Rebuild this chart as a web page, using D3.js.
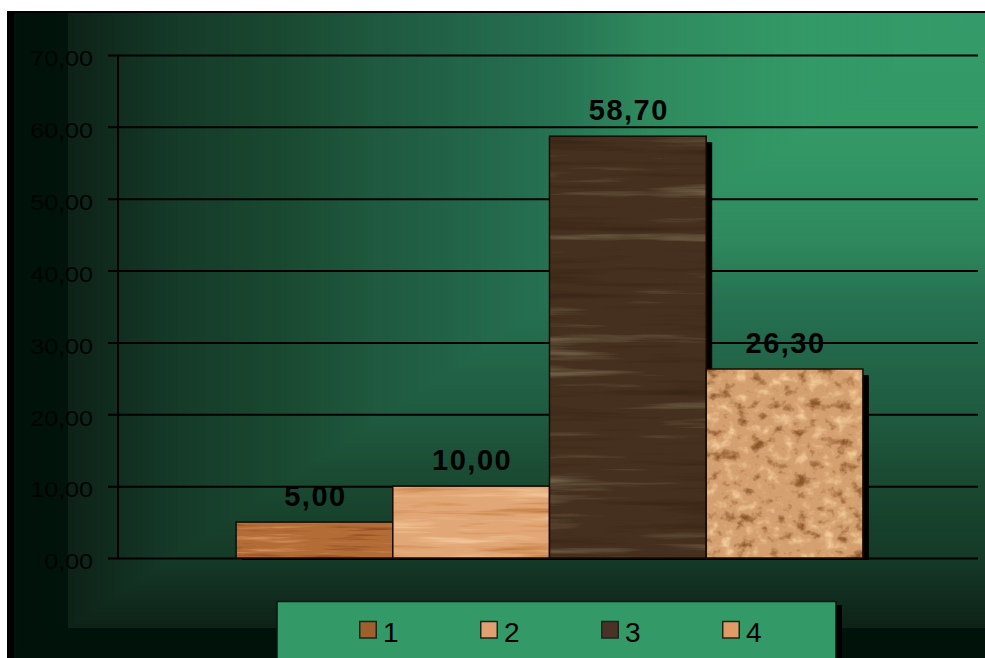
<!DOCTYPE html>
<html>
<head>
<meta charset="utf-8">
<script src="https://cdn.jsdelivr.net/npm/d3@7"></script>
<style>
  html, body { margin: 0; padding: 0; background: #ffffff; }
  svg { display: block; }
  text { font-family: "Liberation Sans", Arial, sans-serif; }
</style>
</head>
<body>
<svg id="chart" width="985" height="658"></svg>
<script>
// ---- data ----
const series = ["1", "2", "3", "4"];
const values = [5.00, 10.00, 58.70, 26.30];
const yTicks = [0, 10, 20, 30, 40, 50, 60, 70];
const yTickLabels = ["0,00", "10,00", "20,00", "30,00", "40,00", "50,00", "60,00", "70,00"];

// ---- styles ----
const woodStyles = [
  { base: "#b36c36", light: [0.86, 0.60, 0.40], dark: [0.50, 0.24, 0.12], freq: "0.012 0.22", seed: 4, la: 3, lb: -1.75, da: -3, db: 1.3, swatch: "#a0602e" },
  { base: "#e2a776", light: [0.97, 0.82, 0.64], dark: [0.74, 0.46, 0.22], freq: "0.008 0.11", seed: 7, la: 3, lb: -1.7, da: -3, db: 1.3, swatch: "#e0a070" },
  { base: "#45301f", light: [0.50, 0.44, 0.33], dark: [0.22, 0.14, 0.08], freq: "0.005 0.09", seed: 11, la: 2.6, lb: -1.55, da: -3, db: 1.35, swatch: "#4a3226" },
  { base: "#d5a070", light: [0.95, 0.80, 0.60], dark: [0.55, 0.34, 0.16], freq: "0.07 0.08", seed: 5, la: 3.5, lb: -1.95, da: -3.5, db: 1.55, swatch: "#df9c66" }
];

const svg = d3.select("#chart");
const defs = svg.append("defs");

// texture filters
woodStyles.forEach((s, i) => {
  const f = defs.append("filter").attr("id", "tex" + i)
    .attr("x", 0).attr("y", 0).attr("width", 1).attr("height", 1)
    .attr("color-interpolation-filters", "sRGB");
  f.append("feTurbulence").attr("type", "fractalNoise").attr("baseFrequency", s.freq)
    .attr("numOctaves", 4).attr("seed", s.seed).attr("result", "n");
  f.append("feColorMatrix").attr("in", "n").attr("type", "matrix")
    .attr("values", `0 0 0 0 ${s.light[0]} 0 0 0 0 ${s.light[1]} 0 0 0 0 ${s.light[2]} ${s.la} 0 0 0 ${s.lb}`)
    .attr("result", "light");
  f.append("feColorMatrix").attr("in", "n").attr("type", "matrix")
    .attr("values", `0 0 0 0 ${s.dark[0]} 0 0 0 0 ${s.dark[1]} 0 0 0 0 ${s.dark[2]} ${s.da} 0 0 0 ${s.db}`)
    .attr("result", "dark");
  const m = f.append("feMerge").attr("result", "m");
  m.append("feMergeNode").attr("in", "SourceGraphic");
  m.append("feMergeNode").attr("in", "dark");
  m.append("feMergeNode").attr("in", "light");
  f.append("feComposite").attr("in", "m").attr("in2", "SourceGraphic").attr("operator", "in");
});

// ---- corner gradient background (from top-right corner) ----
function cornerGradient(g, x0, y0, x1, y1, stops, colors, n) {
  const c = d3.scaleLinear().domain(stops).range(colors).interpolate(d3.interpolateRgb);
  const W = x1 - x0, H = y1 - y0;
  g.selectAll(null).data(d3.range(n)).enter().append("rect")
    .attr("x", i => x1 - (1 - i / n) * W)
    .attr("y", y0)
    .attr("width", i => (1 - i / n) * W)
    .attr("height", i => (1 - i / n) * H)
    .attr("fill", i => c(1 - i / n));
}

const bg = svg.append("g");
cornerGradient(bg, 7, 12, 985, 658, [0, 1], ["#0b2e1f", "#001209"], 60);
bg.append("rect").attr("x", 7).attr("y", 12).attr("width", 7).attr("height", 646).attr("fill", "#000");
cornerGradient(bg, 68, 12, 985, 628,
  [0, 0.2, 0.37, 0.47, 0.66, 0.76, 0.89, 1],
  ["#349a69", "#339966", "#2f8a5e", "#267252", "#1f5a40", "#1a4a32", "#153a28", "#0e2218"], 160);
bg.append("line").attr("x1", 7).attr("x2", 985).attr("y1", 12).attr("y2", 12)
  .attr("stroke", "#000").attr("stroke-width", 2);

// ---- scales ----
const y = d3.scaleLinear().domain([0, 70]).range([558, 55]);
const xOuter = d3.scaleBand().domain(["g"]).range([119.5, 979.5]).paddingOuter(0.186);
const xInner = d3.scaleBand().domain(series).range([0, xOuter.bandwidth()]);
const fmt = d3.formatLocale({ decimal: ",", thousands: ".", grouping: [3], currency: ["", ""] }).format(".2f");

// ---- gridlines + tick labels ----
const sx = 1.14;
const grid = svg.append("g").attr("transform", "translate(108,0)")
  .call(d3.axisLeft(y).tickValues(yTicks).tickSize(-870).tickPadding(15)
    .tickFormat((d, i) => yTickLabels[i]));
grid.select(".domain").remove();
grid.selectAll(".tick line").attr("stroke", "#000").attr("stroke-width", 2);
grid.selectAll(".tick text").attr("fill", "#010402").attr("font-size", 22)
  .attr("x", -15 / sx).attr("transform", `scale(${sx},1)`)
  .attr("dy", "0.49em")
  .style("font-family", "'Liberation Sans', Arial, sans-serif");

// y axis line
svg.append("line").attr("x1", 118).attr("x2", 118).attr("y1", y(70)).attr("y2", y(0))
  .attr("stroke", "#000").attr("stroke-width", 2);

// ---- bars ----
const barsG = svg.append("g").attr("transform", `translate(${xOuter("g")},0)`);
series.forEach((s, i) => {
  const bx = xInner(s), bw = xInner.bandwidth();
  const top = y(values[i]), bot = y(0);
  barsG.append("rect").attr("x", bx + 6).attr("y", top + 6).attr("width", bw)
    .attr("height", bot - top - 4).attr("fill", "#000");
  barsG.append("rect").attr("x", bx).attr("y", top).attr("width", bw).attr("height", bot - top)
    .attr("fill", woodStyles[i].base).attr("filter", `url(#tex${i})`);
  barsG.append("rect").attr("x", bx).attr("y", top).attr("width", bw).attr("height", bot - top)
    .attr("fill", "none").attr("stroke", "#1a0a02").attr("stroke-width", 1.5);
});

// value labels
barsG.selectAll(".vlabel").data(series).enter().append("text")
  .attr("class", "vlabel")
  .attr("x", s => xInner(s) + xInner.bandwidth() / 2 + 1)
  .attr("y", (s, i) => y(values[i]) - 16)
  .attr("text-anchor", "middle")
  .attr("font-size", 29).attr("font-weight", "bold").attr("letter-spacing", "1.5px")
  .attr("fill", "#000")
  .text((s, i) => fmt(values[i]));

// ---- legend ----
const lg = svg.append("g");
lg.append("rect").attr("x", 283).attr("y", 605).attr("width", 559).attr("height", 60).attr("fill", "#000");
lg.append("rect").attr("x", 277).attr("y", 601.5).attr("width", 559).attr("height", 60)
  .attr("fill", "#339966").attr("stroke", "#0a140e").attr("stroke-width", 1.5);
const lx = d3.scaleBand().domain(series).range([339, 823]);
const items = lg.selectAll(".li").data(series).enter().append("g").attr("class", "li")
  .attr("transform", s => `translate(${lx(s) + 20},0)`);
items.append("rect").attr("x", 0.75).attr("y", 621.5).attr("width", 16.5).attr("height", 16.5)
  .attr("fill", (s, i) => woodStyles[i].swatch).attr("stroke", "#17291e").attr("stroke-width", 1.5);
items.append("text").attr("x", 24).attr("y", 642).attr("font-size", 28).attr("fill", "#000")
  .text(s => s);
</script>
</body>
</html>
